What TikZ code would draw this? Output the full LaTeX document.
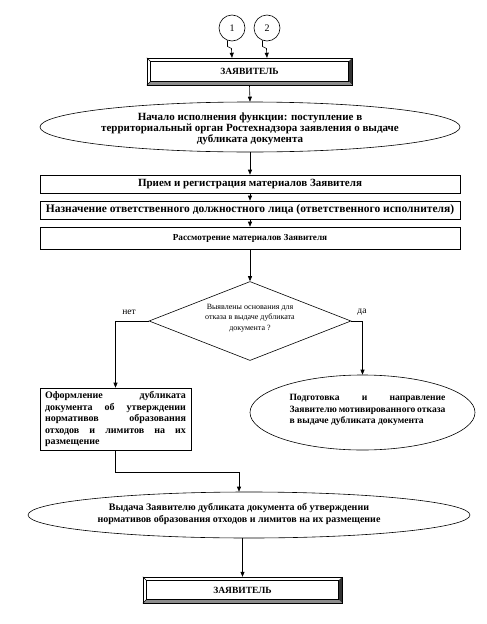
\documentclass[tikz,border=0pt]{standalone}
\usepackage{fontspec}
\setmainfont{Liberation Serif}
\usetikzlibrary{shapes.geometric,arrows.meta,calc}
\newcommand\jline[1]{{\spaceskip=0pt \xspaceskip=0pt \makebox[\hsize][s]{#1}}\\}
\newcommand\bevelit[1]{%
  \fill[black!80] (#1.north east) -- (#1.south east) -- ([shift={(-3.5pt,3.5pt)}]#1.south east) -- ([shift={(-3.5pt,-3.5pt)}]#1.north east) -- cycle;
  \fill[black!45] (#1.south west) -- (#1.south east) -- ([shift={(-3.5pt,3.5pt)}]#1.south east) -- ([shift={(3.5pt,3.5pt)}]#1.south west) -- cycle;
  \draw[line width=0.6pt] (#1.north west) rectangle (#1.south east);
  \draw[line width=0.5pt] ([shift={(3.5pt,-3.5pt)}]#1.north west) rectangle ([shift={(-3.5pt,3.5pt)}]#1.south east);
  \draw[line width=0.4pt] (#1.north west) -- ([shift={(3.5pt,-3.5pt)}]#1.north west)
    (#1.south west) -- ([shift={(3.5pt,3.5pt)}]#1.south west);
}
\begin{document}
\begin{tikzpicture}[x=1pt,y=-1pt,
  arr/.style={-{Triangle[length=5pt,width=4pt]}, line width=0.6pt},
  frame/.style={draw, line width=0.6pt, inner sep=0pt},
  pbox/.style={frame, minimum width=420pt},
  ell/.style={frame, ellipse},
  txt/.style={inner sep=0pt, font=\bfseries\fontsize{9.5}{11}\selectfont},
  lab/.style={inner sep=0pt, font=\fontsize{9.5}{11}\selectfont},
  ]
\path[use as bounding box] (0,0) rectangle (487,624);

% circles
\node[frame, circle, minimum size=26pt, font=\fontsize{10}{12}\selectfont] (c1) at (232,28) {1};
\node[frame, circle, minimum size=26pt, font=\fontsize{10}{12}\selectfont] (c2) at (267,28) {2};

% top applicant box
\node[inner sep=0pt, minimum width=205pt, minimum height=27pt] (top) at (249.5,71.5) {};
\bevelit{top}
\node[txt] (toptxt) at (top) {ЗАЯВИТЕЛЬ};

\draw[arr] (c1.250) -- ++(0,6) -- ++(4,2) -- (c1.south |- top.north);
\draw[arr] (c2.250) -- ++(0,6) -- ++(4,2) -- (c2.south |- top.north);

% start ellipse
\node[ell, minimum width=420pt, minimum height=50pt] (e1) at (250,127) {};
\node[txt, align=center, font=\bfseries\fontsize{11}{11}\selectfont] (e1t) at (250,129) {Начало исполнения функции: поступление в\\территориальный орган Ростехнадзора заявления о выдаче\\дубликата документа};

% process boxes
\node[pbox, minimum height=18pt, font=\bfseries\fontsize{11}{12}\selectfont] (b1) at (250,184) {Прием и регистрация материалов Заявителя};
\node[pbox, minimum height=18pt, font=\bfseries\fontsize{11.5}{12}\selectfont] (b2) at (250,210) {Назначение ответственного должностного лица (ответственного исполнителя)};
\node[pbox, minimum height=22pt, font=\bfseries\fontsize{9.2}{11}\selectfont] (b3) at (250,238) {Рассмотрение материалов Заявителя};

\draw[arr] (top.south) -- (e1.north);
\draw[arr] (e1.south) -- (b1.north);
\draw[arr] (b1.south) -- (b2.north);
\draw[arr] (b2.south) -- (b3.north);

% decision
\node[frame, diamond, minimum width=202pt, minimum height=79pt] (d) at (250,321) {};
\node[inner sep=0pt, align=center, font=\fontsize{8}{10.5}\selectfont] (dt) at (250,318) {Выявлены основания для\\отказа в выдаче дубликата\\документа ?};
\draw[arr] (b3.south) -- (d.north);

\node[lab] (no) at (129,312) {нет};
\node[lab] (yes) at (362,312) {да};

% left box
\node[frame, minimum width=151pt, minimum height=62pt] (lb) at (115.5,419) {};
\node[txt, text width=141pt, align=justify, font=\bfseries\fontsize{10}{11.5}\selectfont] (lbt) at (lb) {\jline{Оформление дубликата}\jline{документа об утверждении}\jline{нормативов образования}\jline{отходов и лимитов на их}размещение};

% right ellipse
\node[ell, minimum width=225pt, minimum height=75pt] (re) at (362.5,412.5) {};
\node[txt, text width=156pt, align=justify, font=\bfseries\fontsize{9.6}{11.5}\selectfont] (ret) at (367.5,410) {\jline{Подготовка и направление}\jline{Заявителю мотивированного отказа}в выдаче дубликата документа};

\draw[arr] (d.west) -| (lb.north);
\draw[arr] (d.east) -| (re.north);

% final ellipse
\node[ell, minimum width=442pt, minimum height=46pt] (fe) at (249,515) {};
\node[txt, align=center, font=\bfseries\fontsize{10}{12}\selectfont] (fet) at (239,514) {Выдача Заявителю дубликата документа об утверждении\\нормативов образования отходов и лимитов на их размещение};

\coordinate (j) at (239,472);
\draw[arr] (lb.south) |- (j) -- (j |- fe.north);

% bottom applicant box
\node[inner sep=0pt, minimum width=199pt, minimum height=26pt] (bot) at (242.5,590) {};
\bevelit{bot}
\node[txt] (bottxt) at (bot) {ЗАЯВИТЕЛЬ};

\draw[arr] (fe.south -| bot.north) -- (bot.north);
\end{tikzpicture}
\end{document}
